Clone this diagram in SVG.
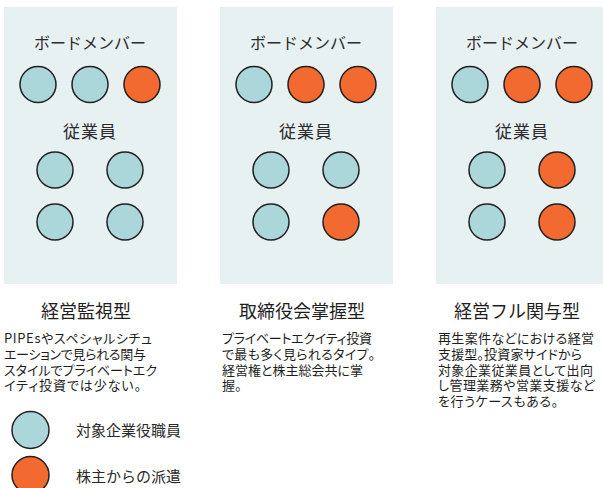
<svg xmlns="http://www.w3.org/2000/svg" width="603" height="488" viewBox="0 0 603 488">
<style>
.panel{fill:#e8f1f1}
.c{stroke:#231f20;stroke-width:1.5}
.b{fill:#acd7da}
.o{fill:#f26a2f}
text{font-family:"Noto Sans CJK JP","Liberation Sans",sans-serif;fill:#2a2a2a;dominant-baseline:central}
.h{font-size:16px;text-anchor:middle}
.e{font-size:17px;text-anchor:middle;letter-spacing:1px}
.t{font-size:18px;text-anchor:middle;fill:#1e1e1e}
.d{font-size:13px;font-feature-settings:"palt";fill:#1e1e1e}
.l{font-size:15px}
</style>
<g id="panel1">
<rect class="panel" x="4" y="7" width="173" height="277"/>
<text class="h" x="90" y="42">ボードメンバー</text>
<circle class="c b" cx="38" cy="84.5" r="18"/>
<circle class="c b" cx="90" cy="84.5" r="18"/>
<circle class="c o" cx="142" cy="84.5" r="18"/>
<text class="e" x="90" y="130">従業員</text>
<circle class="c b" cx="55" cy="170" r="18"/>
<circle class="c b" cx="125" cy="170" r="18"/>
<circle class="c b" cx="55" cy="222" r="18"/>
<circle class="c b" cx="125" cy="222" r="18"/>
<text class="t" x="86" y="310">経営監視型</text>
<text class="d"><tspan x="4" y="337" textLength="148" lengthAdjust="spacing">PIPEsやスペシャルシチュ</tspan><tspan x="4" y="353" textLength="142" lengthAdjust="spacing">エーションで見られる関与</tspan><tspan x="4" y="368.5" textLength="153" lengthAdjust="spacing">スタイルでプライベートエク</tspan><tspan x="4" y="384" textLength="137" lengthAdjust="spacing">イティ投資では少ない。</tspan></text>
</g>
<g id="panel2">
<rect class="panel" x="220" y="7" width="173" height="277"/>
<text class="h" x="306" y="42">ボードメンバー</text>
<circle class="c b" cx="254" cy="84.5" r="18"/>
<circle class="c o" cx="306" cy="84.5" r="18"/>
<circle class="c o" cx="358" cy="84.5" r="18"/>
<text class="e" x="306" y="130">従業員</text>
<circle class="c b" cx="271" cy="170" r="18"/>
<circle class="c b" cx="341" cy="170" r="18"/>
<circle class="c b" cx="271" cy="222" r="18"/>
<circle class="c o" cx="341" cy="222" r="18"/>
<text class="t" x="302" y="310">取締役会掌握型</text>
<text class="d"><tspan x="222" y="337" textLength="150" lengthAdjust="spacing">プライベートエクイティ投資</tspan><tspan x="222" y="353" textLength="153" lengthAdjust="spacing">で最も多く見られるタイプ。</tspan><tspan x="222" y="368.5" textLength="141" lengthAdjust="spacing">経営権と株主総会共に掌</tspan><tspan x="222" y="384">握。</tspan></text>
</g>
<g id="panel3">
<rect class="panel" x="436" y="7" width="173" height="277"/>
<text class="h" x="522" y="42">ボードメンバー</text>
<circle class="c b" cx="470" cy="84.5" r="18"/>
<circle class="c o" cx="522" cy="84.5" r="18"/>
<circle class="c o" cx="574" cy="84.5" r="18"/>
<text class="e" x="522" y="130">従業員</text>
<circle class="c b" cx="487" cy="170" r="18"/>
<circle class="c o" cx="557" cy="170" r="18"/>
<circle class="c b" cx="487" cy="222" r="18"/>
<circle class="c o" cx="557" cy="222" r="18"/>
<text class="t" x="517" y="310">経営フル関与型</text>
<text class="d"><tspan x="438" y="337" textLength="156" lengthAdjust="spacing">再生案件などにおける経営</tspan><tspan x="438" y="353" textLength="144" lengthAdjust="spacing">支援型。投資家サイドから</tspan><tspan x="438" y="368.5" textLength="155" lengthAdjust="spacing">対象企業従業員として出向</tspan><tspan x="438" y="384" textLength="157" lengthAdjust="spacing">し管理業務や営業支援など</tspan><tspan x="438" y="400" textLength="120" lengthAdjust="spacing">を行うケースもある。</tspan></text>
</g>
<g id="legend">
<circle class="c b" cx="30.5" cy="430" r="18.5"/>
<text class="l" x="76" y="429">対象企業役職員</text>
<circle class="c o" cx="30.5" cy="475" r="18.5"/>
<text class="l" x="76" y="475">株主からの派遣</text>
</g>
</svg>
